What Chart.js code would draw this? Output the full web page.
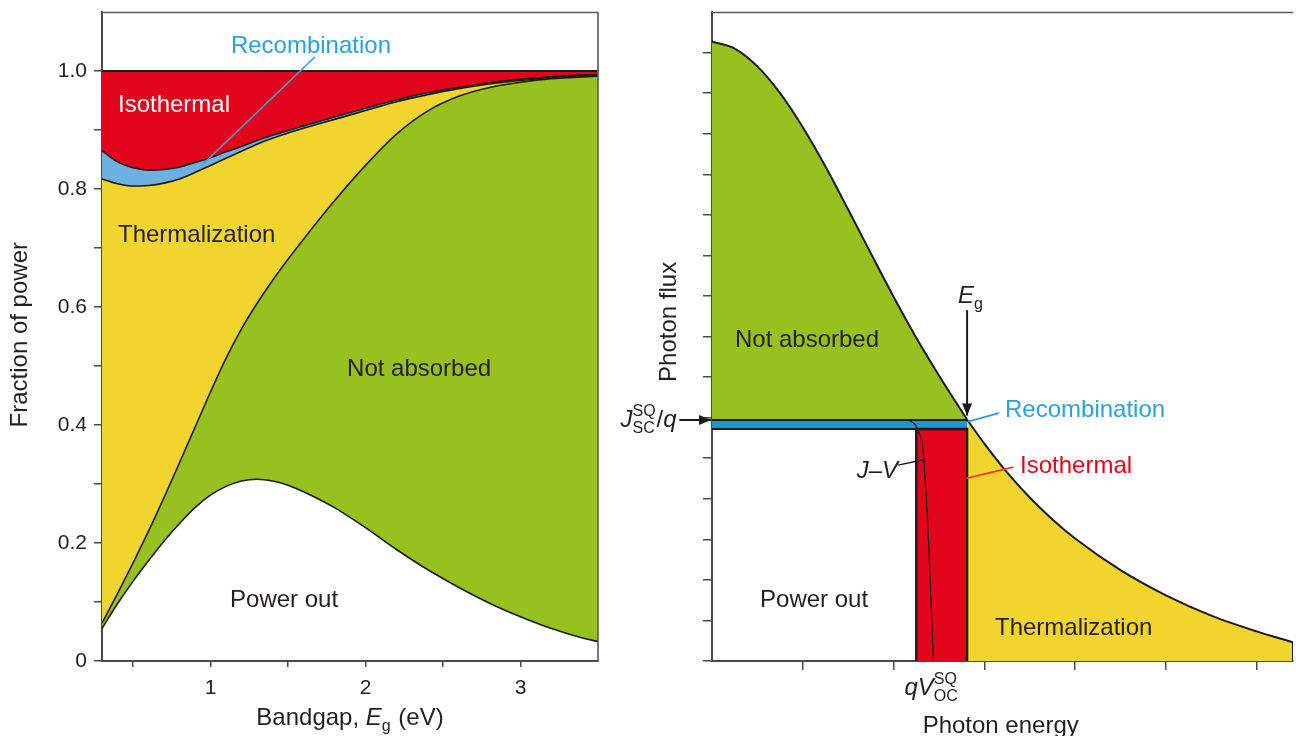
<!DOCTYPE html>
<html>
<head>
<meta charset="utf-8">
<title>Shockley–Queisser losses</title>
<script src="https://cdn.jsdelivr.net/npm/chart.js@4.4.0/dist/chart.umd.min.js"></script>
<style>
  html, body { margin: 0; padding: 0; background: #fff; }
  #wrap { position: relative; width: 1296px; height: 736px; overflow: hidden; }
  #chartL { position: absolute; left: 0; top: 0; }
  #chartR { position: absolute; left: 620px; top: 0; }
</style>
</head>
<body>
<div id="wrap">
  <canvas id="chartL" width="620" height="736"></canvas>
  <canvas id="chartR" width="676" height="736"></canvas>
</div>
<script>
// ── Data: left panel (fraction of power vs bandgap, cumulative boundaries) ──

const bandgap        = [0.3, 0.4, 0.5, 0.6, 0.7, 0.8, 0.9, 1.0, 1.1, 1.2, 1.3, 1.4, 1.5, 1.6, 1.8, 2.0, 2.2, 2.4, 2.6, 2.8, 3.0, 3.2, 3.4, 3.5];
const powerOut       = [0.055, 0.097, 0.135, 0.170, 0.203, 0.233, 0.260, 0.281, 0.296, 0.305, 0.308, 0.305, 0.298, 0.287, 0.260, 0.226, 0.189, 0.155, 0.125, 0.098, 0.075, 0.055, 0.039, 0.033];
const notAbsorbedTop = [0.064, 0.114, 0.166, 0.220, 0.277, 0.336, 0.396, 0.456, 0.513, 0.563, 0.606, 0.645, 0.681, 0.715, 0.780, 0.840, 0.893, 0.932, 0.957, 0.972, 0.981, 0.987, 0.990, 0.991];
const thermalTop     = [0.817, 0.809, 0.805, 0.806, 0.810, 0.817, 0.828, 0.840, 0.852, 0.864, 0.876, 0.886, 0.895, 0.903, 0.918, 0.933, 0.948, 0.960, 0.970, 0.978, 0.984, 0.989, 0.992, 0.993];
const recombTop      = [0.865, 0.846, 0.836, 0.832, 0.833, 0.837, 0.845, 0.853, 0.863, 0.872, 0.882, 0.891, 0.899, 0.907, 0.922, 0.937, 0.951, 0.963, 0.972, 0.980, 0.986, 0.990, 0.993, 0.994];
const totalPower     = 1.0;

const bandgapTicks   = [0.5, 1, 1.5, 2, 2.5, 3];
const bandgapLabels  = ['', '1', '', '2', '', '3'];
const fractionTicks  = [0, 0.1, 0.2, 0.3, 0.4, 0.5, 0.6, 0.7, 0.8, 0.9, 1.0];
const fractionLabels = ['0', '', '0.2', '', '0.4', '', '0.6', '', '0.8', '', '1.0'];

// ── Data: right panel (photon flux above energy, arbitrary units) ───────────

const photonEnergy = [0, 0.25, 0.5, 0.75, 1.0, 1.25, 1.5, 1.75, 2.0, 2.25, 2.5, 2.81, 3.0, 3.25, 3.5, 3.75, 4.0, 4.5, 5.0, 5.5, 6.0, 6.4];
const photonFlux   = [15.27, 15.10, 14.66, 14.00, 13.16, 12.19, 11.13, 10.05, 8.98, 7.97, 7.04, 5.95, 5.36, 4.65, 4.03, 3.49, 3.02, 2.24, 1.62, 1.12, 0.73, 0.46];
const jvVoltage    = [0, 2.12, 2.19, 2.24, 2.28, 2.32, 2.35, 2.39, 2.425, 2.44];
const jvCurrent    = [5.94, 5.94, 5.91, 5.82, 5.62, 5.30, 4.40, 2.75, 0.75, 0];
const egValue      = 2.81;   // bandgap
const jscValue     = 5.94;   // J_SC / q
const jmpValue     = 5.72;   // current at max power
const vmpValue     = 2.25;   // qV at max power

const energyTicks  = [1, 2, 3, 4, 5, 6];
const fluxTicks    = [0, 1, 2, 3, 4, 5, 6, 7, 8, 9, 10, 11, 12, 13, 14, 15];

// ── Style ────────────────────────────────────────────────────────────────────

const FONT   = '"Liberation Sans", Arial, Helvetica, sans-serif';
const INK    = '#231f20';
const AXIS   = '#4a4a4a';
const LINE   = '#1a1a1a';
const RED    = '#e3051b';
const YELLOW = '#f2d42e';
const GREEN  = '#97c11f';
const BLUE_L = '#6eb1e1';
const BLUE_R = '#1d97d4';
const LABEL_BLUE = '#27a2dc';

Chart.defaults.font.family = FONT;
Chart.defaults.color = INK;

// ── Helpers ──────────────────────────────────────────────────────────────────

function pts(xs, ys) {
    return xs.map((x, i) => ({ x, y: ys[i] }));
}

function drawRich(ctx, segs, x, y, opts) {
    const size  = opts.size || 24;
    const small = Math.round(size * 0.66);
    ctx.save();
    ctx.fillStyle = opts.color || INK;
    ctx.textBaseline = 'alphabetic';
    ctx.textAlign = 'left';

    const widths = segs.map(s => {
        if (s.t === undefined) {
            ctx.font = `${small}px ${FONT}`;
            const a = s.sup ? ctx.measureText(s.sup).width : 0;
            const b = s.sub ? ctx.measureText(s.sub).width : 0;
            return Math.max(a, b) + 1;
        }
        ctx.font = `${s.i ? 'italic ' : ''}${size}px ${FONT}`;
        return ctx.measureText(s.t).width;
    });
    const total = widths.reduce((a, b) => a + b, 0);

    ctx.translate(x, y);
    if (opts.rotate) ctx.rotate(-Math.PI / 2);
    let cx = opts.align === 'center' ? -total / 2 : opts.align === 'right' ? -total : 0;
    const base = size * 0.36;

    segs.forEach((s, i) => {
        if (s.t === undefined) {
            ctx.font = `${small}px ${FONT}`;
            if (s.sup) ctx.fillText(s.sup, cx, base - size * 0.46);
            if (s.sub) ctx.fillText(s.sub, cx, base + size * 0.26);
        } else {
            ctx.font = `${s.i ? 'italic ' : ''}${size}px ${FONT}`;
            ctx.fillText(s.t, cx, base);
        }
        cx += widths[i];
    });
    ctx.restore();
}

// annotation layer: texts, leader lines and arrows in data coordinates
function makeNotes(spec) {
    return {
        id: 'notes',
        afterDraw(chart) {
            const { ctx, chartArea: a } = chart;
            const sx = chart.scales.x, sy = chart.scales.y;
            const P = p => [sx.getPixelForValue(p[0]), sy.getPixelForValue(p[1])];

            ctx.save();
            ctx.strokeStyle = '#5a5a5a';
            ctx.lineWidth = 1.6;
            ctx.beginPath();
            if (spec.frame.includes('top'))   { ctx.moveTo(a.left, a.top + 0.5); ctx.lineTo(a.right, a.top + 0.5); }
            if (spec.frame.includes('right')) { ctx.moveTo(a.right, a.top); ctx.lineTo(a.right, a.bottom); }
            ctx.stroke();

            (spec.lines || []).forEach(l => {
                const [x1, y1] = P(l.from), [x2, y2] = P(l.to);
                ctx.strokeStyle = l.color;
                ctx.lineWidth = l.width;
                ctx.beginPath(); ctx.moveTo(x1, y1); ctx.lineTo(x2, y2); ctx.stroke();
                if (l.arrow) {
                    const ang = Math.atan2(y2 - y1, x2 - x1), L = 12, W = 5;
                    ctx.fillStyle = l.color;
                    ctx.beginPath();
                    ctx.moveTo(x2, y2);
                    ctx.lineTo(x2 - L * Math.cos(ang) + W * Math.sin(ang), y2 - L * Math.sin(ang) - W * Math.cos(ang));
                    ctx.lineTo(x2 - L * Math.cos(ang) - W * Math.sin(ang), y2 - L * Math.sin(ang) + W * Math.cos(ang));
                    ctx.closePath(); ctx.fill();
                }
            });
            ctx.restore();

            (spec.texts || []).forEach(t => {
                const [x, y] = P(t.at);
                drawRich(ctx, t.segs, x, y, t);
            });
        }
    };
}

function lineSet(data, extra) {
    return Object.assign({
        data, borderColor: LINE, borderWidth: 1.6, pointRadius: 0,
        fill: false, cubicInterpolationMode: 'monotone'
    }, extra);
}

// fixed-size axes, with no extra label padding pushed into the layout
function noPad(s) {
    s.paddingTop = 0; s.paddingBottom = 0; s.paddingLeft = 0; s.paddingRight = 0;
}

function axisX(min, max, ticks, labels, tickLen, fit) {
    return {
        type: 'linear', min, max,
        afterBuildTicks: s => { s.ticks = ticks.map(v => ({ value: v })); },
        afterFit: s => { s.height = fit; noPad(s); },
        ticks: {
            autoSkip: false, maxRotation: 0, padding: 9, color: INK,
            font: { size: 21 },
            callback: (v, i) => labels ? labels[i] : ''
        },
        grid: { drawOnChartArea: false, tickLength: tickLen, color: AXIS, lineWidth: 1.5 },
        border: { color: AXIS, width: 2 }
    };
}

function axisY(min, max, ticks, labels, tickLen, fit) {
    return {
        type: 'linear', min, max,
        afterBuildTicks: s => { s.ticks = ticks.map(v => ({ value: v })); },
        afterFit: s => { s.width = fit; noPad(s); },
        ticks: {
            autoSkip: false, padding: 7, color: INK,
            font: { size: 21 },
            callback: (v, i) => labels ? labels[i] : ''
        },
        grid: { drawOnChartArea: false, tickLength: tickLen, color: AXIS, lineWidth: 1.5 },
        border: { color: AXIS, width: 2 }
    };
}

const baseOptions = {
    responsive: false,
    animation: false,
    events: [],
    plugins: {
        legend: { display: false },
        tooltip: { enabled: false },
        filler: { drawTime: 'beforeDatasetsDraw' }
    }
};

// ── Left panel ───────────────────────────────────────────────────────────────

const leftNotes = {
    frame: ['top', 'right'],
    lines: [
        { from: [0.939, 0.839], to: [1.674, 1.024], color: '#3ea3d6', width: 1.5 }
    ],
    texts: [
        { at: [1.648, 1.046], align: 'center', color: LABEL_BLUE, segs: [{ t: 'Recombination' }] },
        { at: [0.403, 0.946], color: '#ffffff', segs: [{ t: 'Isothermal' }] },
        { at: [0.403, 0.724], segs: [{ t: 'Thermalization' }] },
        { at: [1.881, 0.498], segs: [{ t: 'Not absorbed' }] },
        { at: [1.126, 0.107], segs: [{ t: 'Power out' }] },
        { at: [-0.242, 0.553], align: 'center', rotate: true, segs: [{ t: 'Fraction of power' }] },
        { at: [1.9, -0.093], align: 'center',
          segs: [{ t: 'Bandgap, ' }, { t: 'E', i: true }, { sub: 'g' }, { t: ' (eV)' }] }
    ]
};

new Chart(document.getElementById('chartL'), {
    type: 'line',
    data: {
        datasets: [
            lineSet(pts(bandgap, powerOut)),
            lineSet(pts(bandgap, notAbsorbedTop), { fill: '-1', backgroundColor: GREEN }),
            lineSet(pts(bandgap, thermalTop),     { fill: '-1', backgroundColor: YELLOW }),
            lineSet(pts(bandgap, recombTop),      { fill: '-1', backgroundColor: BLUE_L }),
            lineSet([{ x: bandgap[0], y: totalPower }, { x: bandgap[bandgap.length - 1], y: totalPower }],
                    { fill: '-1', backgroundColor: RED, borderWidth: 2.2 })
        ]
    },
    options: Object.assign({}, baseOptions, {
        layout: { padding: { top: 12, right: 22, left: 0, bottom: 0 } },
        scales: {
            x: axisX(0.3, 3.5, bandgapTicks, bandgapLabels, 6, 75),
            y: axisY(0, 1.1, fractionTicks, fractionLabels, 8, 102)
        }
    }),
    plugins: [makeNotes(leftNotes)]
});

// ── Right panel ──────────────────────────────────────────────────────────────

const egIndex = photonEnergy.indexOf(egValue);
const lastE   = photonEnergy[photonEnergy.length - 1];

const rightNotes = {
    frame: ['top'],
    lines: [
        { from: [2.82, 5.90], to: [3.16, 6.11], color: '#2a9fd8', width: 1.8 },
        { from: [2.80, 4.50], to: [3.32, 4.78], color: '#e3401c', width: 1.8 },
        { from: [2.05, 4.83], to: [2.33, 4.96], color: LINE, width: 1.4 },
        { from: [egValue, 8.65], to: [egValue, 6.05], color: LINE, width: 2, arrow: true },
        { from: [-0.36, jscValue], to: [-0.01, jscValue], color: LINE, width: 2, arrow: true }
    ],
    texts: [
        { at: [0.253, 7.96], segs: [{ t: 'Not absorbed' }] },
        { at: [0.529, 1.55], segs: [{ t: 'Power out' }] },
        { at: [3.117, 0.86], segs: [{ t: 'Thermalization' }] },
        { at: [3.228, 6.24], color: LABEL_BLUE, segs: [{ t: 'Recombination' }] },
        { at: [3.393, 4.86], color: RED, segs: [{ t: 'Isothermal' }] },
        { at: [2.049, 4.73], align: 'right', segs: [{ t: 'J', i: true }, { t: '–' }, { t: 'V', i: true }] },
        { at: [2.71, 9.05], segs: [{ t: 'E', i: true }, { sub: 'g' }] },
        { at: [-0.39, 5.99], align: 'right',
          segs: [{ t: 'J', i: true }, { sup: 'SQ', sub: 'SC' }, { t: '/' }, { t: 'q', i: true }] },
        { at: [2.42, -0.62], align: 'center',
          segs: [{ t: 'q', i: true }, { t: 'V', i: true }, { sup: 'SQ', sub: 'OC' }] },
        { at: [3.18, -1.55], align: 'center', segs: [{ t: 'Photon energy' }] },
        { at: [-0.496, 8.36], align: 'center', rotate: true, segs: [{ t: 'Photon flux' }] }
    ]
};

new Chart(document.getElementById('chartR'), {
    type: 'line',
    data: {
        datasets: [
            // 0: J_SC level, blue band down to 1
            lineSet([{ x: 0, y: jscValue }, { x: egValue, y: jscValue }],
                    { fill: 1, backgroundColor: BLUE_R, borderWidth: 2 }),
            // 1: current at max power
            lineSet([{ x: 0, y: jmpValue }, { x: egValue, y: jmpValue }], { borderWidth: 2.2 }),
            // 2: flux below the gap (not absorbed, above J_SC)
            lineSet(pts(photonEnergy.slice(0, egIndex + 1), photonFlux.slice(0, egIndex + 1)),
                    { fill: 0, backgroundColor: GREEN, borderWidth: 2 }),
            // 3: flux above the gap (thermalization)
            lineSet(pts(photonEnergy.slice(egIndex), photonFlux.slice(egIndex)),
                    { fill: 'origin', backgroundColor: YELLOW, borderWidth: 2 }),
            // 4: isothermal rectangle
            lineSet([{ x: vmpValue, y: 0 }, { x: vmpValue, y: jmpValue }, { x: egValue, y: jmpValue }, { x: egValue, y: 0 }],
                    { fill: 'origin', backgroundColor: RED, borderWidth: 2.4, cubicInterpolationMode: 'default', tension: 0 }),
            // 5: J-V curve
            lineSet(pts(jvVoltage, jvCurrent), { borderWidth: 1.3 }),
            // 6: end of spectrum edge
            lineSet([{ x: lastE, y: photonFlux[photonFlux.length - 1] }, { x: lastE, y: 0 }],
                    { borderWidth: 2, cubicInterpolationMode: 'default', tension: 0 })
        ]
    },
    options: Object.assign({}, baseOptions, {
        layout: { padding: { top: 12, right: 3, left: 0, bottom: 0 } },
        scales: {
            x: axisX(0, 6.4, energyTicks, null, 9, 75),
            y: axisY(0, 16, fluxTicks, null, 9, 92)
        }
    }),
    plugins: [makeNotes(rightNotes)]
});
</script>
</body>
</html>
